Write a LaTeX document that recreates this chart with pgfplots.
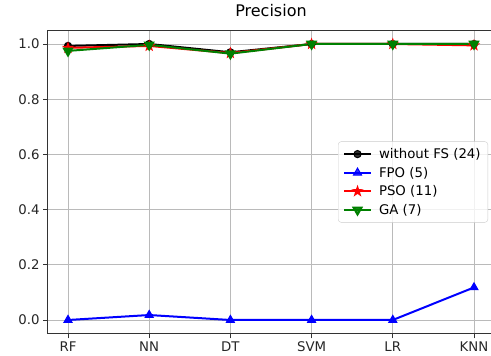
\documentclass[border=0pt]{standalone}
\usepackage{pgfplots}
\pgfplotsset{compat=1.18}
\usepackage{fontspec}
\setmainfont{DejaVu Sans}
\usetikzlibrary{plotmarks}
\definecolor{mplgreen}{rgb}{0,0.5,0}
\pgfdeclareplotmark{fstar}{%
  \pgfpathmoveto{\pgfqpointpolar{90}{1.15\pgfplotmarksize}}%
  \pgfpathlineto{\pgfqpointpolar{126}{0.46\pgfplotmarksize}}%
  \pgfpathlineto{\pgfqpointpolar{162}{1.15\pgfplotmarksize}}%
  \pgfpathlineto{\pgfqpointpolar{198}{0.46\pgfplotmarksize}}%
  \pgfpathlineto{\pgfqpointpolar{234}{1.15\pgfplotmarksize}}%
  \pgfpathlineto{\pgfqpointpolar{270}{0.46\pgfplotmarksize}}%
  \pgfpathlineto{\pgfqpointpolar{306}{1.15\pgfplotmarksize}}%
  \pgfpathlineto{\pgfqpointpolar{342}{0.46\pgfplotmarksize}}%
  \pgfpathlineto{\pgfqpointpolar{18}{1.15\pgfplotmarksize}}%
  \pgfpathlineto{\pgfqpointpolar{54}{0.46\pgfplotmarksize}}%
  \pgfpathclose
  \pgfusepathqfillstroke}
\begin{document}
\begin{tikzpicture}
\begin{axis}[
  at={(0pt,0pt)}, anchor=south west,
  scale only axis, width=446.6pt, height=303.6pt,
  xmin=-0.25, xmax=5.25, ymin=-0.05, ymax=1.05,
  xtick={0,1,2,3,4,5}, xticklabels={RF,NN,DT,SVM,LR,KNN},
  ytick={0,0.2,0.4,0.6,0.8,1.0},
  yticklabel style={/pgf/number format/.cd, fixed, fixed zerofill, precision=1},
  /pgf/number format/assume math mode=true,
  grid=major, major grid style={color=black!27, line width=0.8pt},
  tick align=outside, tick pos=left, major tick length=4.6pt,
  every tick/.style={black!80, line width=0.8pt},
  axis line style={black!80, line width=0.8pt},
  tick label style={font=\fontsize{13.3}{16}\selectfont, text=black!85},
  title={Precision},
  title style={font=\fontsize{16}{19}\selectfont, at={(0.5,1)}, anchor=base, yshift=7.5pt},
  legend style={at={(0.986,0.5)}, anchor=east, draw=black!20, rounded corners=3pt,
    fill=white, fill opacity=0.8, text opacity=1,
    font=\fontsize{13.3}{16}\selectfont, inner xsep=5pt, inner ysep=4.5pt,
    nodes={inner sep=2.2pt}, row sep=2.6pt,
    /tikz/every odd column/.append style={column sep=5pt}},
  legend cell align=left,
  legend image code/.code={\draw[mark repeat=2,mark phase=2,#1] plot coordinates {(0pt,0pt)(13.3pt,0pt)(26.6pt,0pt)};},
  every axis plot/.append style={line width=2pt, mark options={line width=1pt}},
]
\addplot[black, mark=*, mark size=3.6pt] coordinates {
  (0,0.993) (1,1.0) (2,0.970) (3,1.0) (4,1.0) (5,1.0)};
\addlegendentry{without FS (24)}
\addplot[blue, mark=triangle*, mark size=4.6pt] coordinates {
  (0,0.0) (1,0.018) (2,0.0) (3,0.0) (4,0.0) (5,0.118)};
\addlegendentry{FPO (5)}
\addplot[red, mark=fstar, mark size=3pt, mark options={fill=red}] coordinates {
  (0,0.986) (1,0.993) (2,0.967) (3,1.0) (4,1.0) (5,0.995)};
\addlegendentry{PSO (11)}
\addplot[mplgreen, mark=triangle*, mark size=4.6pt, mark options={rotate=180}] coordinates {
  (0,0.975) (1,0.997) (2,0.965) (3,1.0) (4,1.0) (5,1.0)};
\addlegendentry{GA (7)}
\end{axis}
\pgfresetboundingbox
\useasboundingbox (-47.7pt,-22.2pt) rectangle (443.3pt,333.8pt);
\end{tikzpicture}
\end{document}
